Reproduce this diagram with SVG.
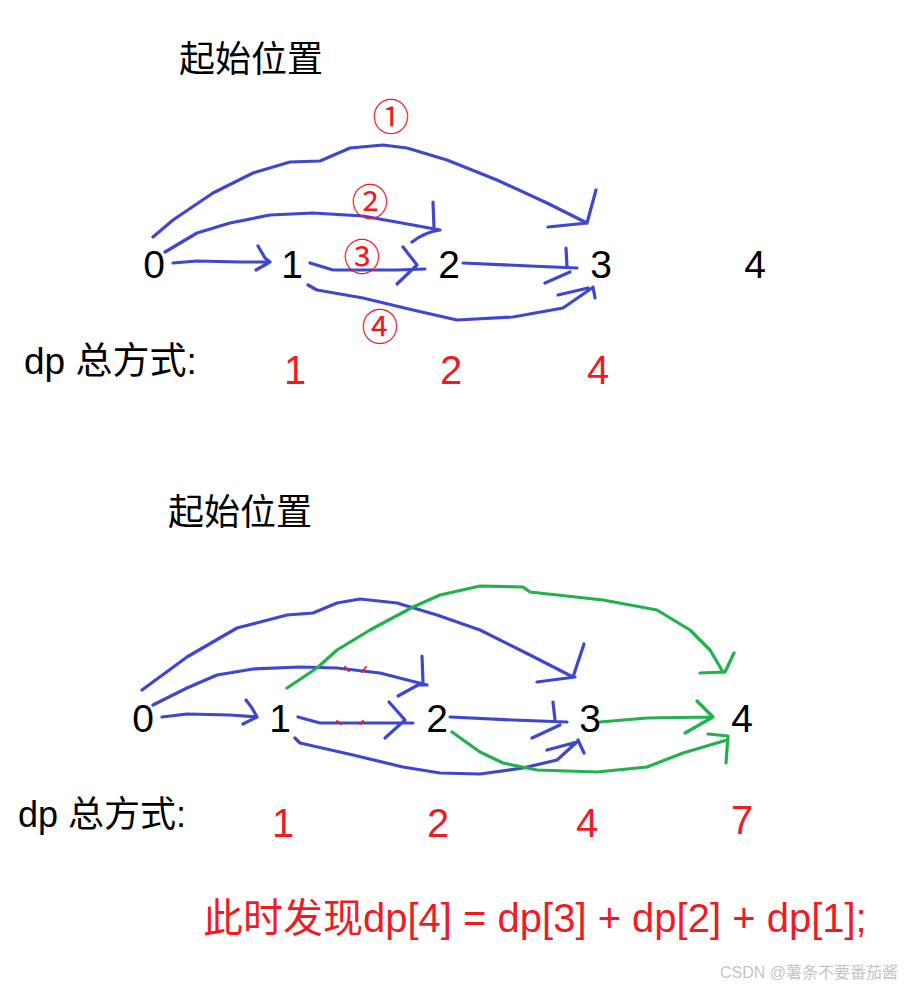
<svg xmlns="http://www.w3.org/2000/svg" width="913" height="988" viewBox="0 0 913 988">
<style>
.t{font-family:"Liberation Sans","Noto Sans CJK SC",sans-serif;fill:#000}
.d{font-family:"Liberation Sans","Noto Sans CJK SC",sans-serif;font-size:39px;fill:#000;text-anchor:middle}
.r{font-family:"Liberation Sans","Noto Sans CJK SC",sans-serif;font-size:40px;fill:#ed1c24;text-anchor:middle}
.c{font-family:"Noto Sans CJK SC",sans-serif;font-size:37px;fill:#ed1c24;text-anchor:middle}
.b{fill:none;stroke:#3f48cc;stroke-width:3.2;stroke-linecap:round;stroke-linejoin:round}
.g{fill:none;stroke:#22b14c;stroke-width:3.2;stroke-linecap:round;stroke-linejoin:round}
.m{fill:none;stroke:#ed1c24;stroke-width:2;stroke-linecap:round}
</style>
<rect width="913" height="988" fill="#fff"/>
<g id="title1"><text class="t" x="179" y="72" font-size="36">起始位置</text></g>
<g id="connectors-top">
<path class="b" d="M153,237 L173,220 L213,193 L253,173 L290,162 L320,161 L350,148 L383,145 L407,148 L447,160 L497,180 L547,203 L587,223 M596,190 L587,223 M548,227 L587,223"/>
<path class="b" d="M165,252 L197,233 L230,223 L270,215 L313,213 L363,216 L413,225 L440,230 M433,202 L434,228 M412,242 Q425,232 440,230"/>
<path class="b" d="M173,263 L197,261 L240,262 L270,262 M258,246 L265,258 L270,262 L256,270"/>
<path class="b" d="M310,263 L333,270 L397,270 L425,269 M403,247 L417,265 L397,284"/>
<path class="b" d="M463,263 L530,266 L577,268 M566,248 L567,267 M545,283 L570,272"/>
<path class="b" d="M308,285 L317,290 L363,298 L413,310 L457,320 L513,317 L563,308 L592,288 M593,287 L595,298 M558,295 L588,288"/>
</g>
<g id="labels-top">
<text class="c" x="391" y="131">①</text>
<text class="c" x="370" y="216">②</text>
<text class="c" x="362" y="271">③</text>
<text class="c" x="380" y="341">④</text>
</g>
<g id="n0-top"><text class="d" x="154" y="278">0</text></g>
<g id="n1-top"><text class="d" x="292" y="278">1</text></g>
<g id="n2-top"><text class="d" x="449" y="278">2</text></g>
<g id="n3-top"><text class="d" x="601" y="278">3</text></g>
<g id="n4-top"><text class="d" x="755" y="278">4</text></g>
<g id="dp-top">
<text class="t" x="24" y="374" font-size="37">dp 总方式:</text>
<text class="r" x="295" y="384">1</text>
<text class="r" x="451" y="384">2</text>
<text class="r" x="598" y="384">4</text>
</g>

<g id="title2"><text class="t" x="168" y="525" font-size="36">起始位置</text></g>
<g id="connectors-bottom">
<path class="b" d="M142,690 L187,657 L237,628 L287,615 L313,613 L337,603 L360,599 L397,603 L437,615 L480,630 L530,655 L573,677 M584,644 L573,677 M537,682 L575,677"/>
<path class="b" d="M153,705 L187,688 L217,675 L253,669 L300,667 L337,668 L380,673 L427,685 M422,656 L423,683 M398,696 L418,685 L427,685"/>
<path class="b" d="M162,717 L187,714 L230,715 L257,717 M246,700 L252,708 L257,717 L243,724"/>
<path class="b" d="M298,717 L320,723 L380,723 L413,723 M389,702 L405,720 L385,738"/>
<path class="b" d="M450,717 L513,720 L567,722 M553,702 L555,720 M532,738 L560,725"/>
<path class="b" d="M295,738 L300,743 L353,755 L403,767 L440,773 L480,774 L523,768 L557,760 L577,742 M578,740 L584,753 M547,750 L577,742"/>
<path class="g" d="M287,688 L317,668 L337,650 L370,630 L413,607 L440,595 L480,586 L523,587 L530,592 L603,600 L657,610 L690,630 L710,650 L723,672 M734,653 L725,672 M700,673 L725,672"/>
<path class="g" d="M600,722 L647,718 L713,717 M697,701 L713,717 L685,733"/>
<path class="g" d="M452,732 L480,752 L503,763 L537,770 L597,772 L647,767 L683,753 L727,740 M708,734 L728,736 L726,763"/>
<path class="m" d="M345,667 L349,671 M366,667 L362,672 M337,721 L341,724 M363,721 L360,724"/>
</g>
<g id="n0-bottom"><text class="d" x="143" y="732">0</text></g>
<g id="n1-bottom"><text class="d" x="280" y="732">1</text></g>
<g id="n2-bottom"><text class="d" x="437" y="732">2</text></g>
<g id="n3-bottom"><text class="d" x="590" y="732">3</text></g>
<g id="n4-bottom"><text class="d" x="742" y="732">4</text></g>
<g id="dp-bottom">
<text class="t" x="18" y="827" font-size="36">dp 总方式:</text>
<text class="r" x="283" y="837">1</text>
<text class="r" x="438" y="837">2</text>
<text class="r" x="587" y="837">4</text>
<text class="r" x="742" y="834">7</text>
</g>
<g id="formula"><text class="t" x="203" y="932" font-size="40" style="fill:#ed1c24">此时发现dp[4] = dp[3] + dp[2] + dp[1];</text></g>
<g id="watermark"><text class="t" x="720" y="978" font-size="16" style="fill:#c4c4c4">CSDN @薯条不要番茄酱</text></g>
</svg>
